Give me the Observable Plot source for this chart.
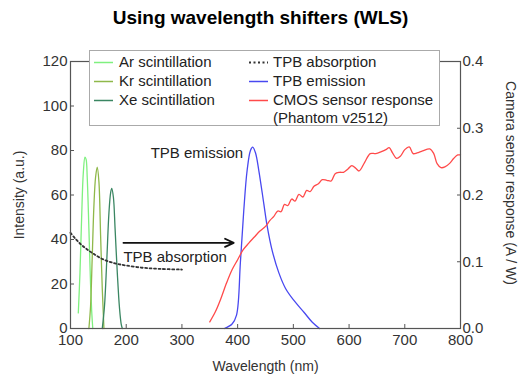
<!DOCTYPE html>
<html><head><meta charset="utf-8">
<script src="https://cdn.jsdelivr.net/npm/d3@7"></script>
<script src="https://cdn.jsdelivr.net/npm/@observablehq/plot@0.6"></script>
<style>
body{margin:0;background:#fff;font-family:"Liberation Sans",Arial,Helvetica,sans-serif;}
#wrap{position:relative;width:521px;height:378px;overflow:hidden;}
#title{height:36px;line-height:36px;text-align:center;font-weight:bold;font-size:19px;color:#000;}
#legend{position:absolute;left:89px;top:50px;width:351px;height:76px;box-sizing:border-box;border:1.5px solid #aaa;background:#fff;font-size:15px;color:#222;}
.it{position:absolute;height:18px;line-height:18px;white-space:nowrap;}
.it svg{position:absolute;left:0;top:0;}
.it span{position:absolute;top:0;}
</style></head>
<body>
<div id="wrap">
  <div id="title">Using wavelength shifters (WLS)</div>
  <div id="chart"></div>
  <div id="legend"></div>
</div>
<script>
// ---- data ----
const xTicks = [100, 200, 300, 400, 500, 600, 700, 800];
const yTicks = [0, 20, 40, 60, 80, 100, 120];
const rightTicks = [0.0, 0.1, 0.2, 0.3, 0.4];
const rightScale = 300; // 0.4 A/W  <->  120 a.u.

const arScint = [[114,7],[117,25],[120,50],[123,70],[126,77],[128,76],[130,68],[133,45],[136,20],[138,8],[140,0]];
const krScint = [[133,0],[136,10],[139,32],[142,55],[145,68],[148,72.5],[151,66],[154,42],[157,18],[159,6],[160,0]];
const xeScint = [[157,0],[161,10],[165,30],[169,52],[172,61],[174,63],[177,59],[180,45],[184,25],[188,9],[191,2],[193,0]];
const tpbAbs = [[100,43],[110,40],[120,37.5],[130,35.5],[140,33.8],[155,31.5],[170,30],[185,29],[200,28.3],[230,27.3],[260,26.8],[300,26.5]];
const tpbEm = [[376,0],[390,2],[398,6],[405,30],[411,53],[417,71],[423,80],[427,81.5],[432,79],[438,71],[447,56],[453,46],[462,35],[474,25],[486,18],[501,12.6],[519,7.3],[534,2.8],[547,0]];
const cmos = [[350,0.010],[360,0.025],[370,0.045],[380,0.068],[390,0.088],[400,0.103],[410,0.118],[420,0.128],[430,0.137],[440,0.146],[450,0.153],[458,0.162],[465,0.168],[472,0.176],[478,0.175],[484,0.186],[490,0.184],[497,0.194],[503,0.191],[510,0.201],[517,0.197],[524,0.207],[530,0.205],[537,0.213],[545,0.217],[552,0.223],[560,0.222],[568,0.221],[575,0.232],[583,0.234],[590,0.234],[598,0.239],[605,0.244],[612,0.240],[618,0.236],[628,0.249],[638,0.262],[648,0.262],[658,0.265],[666,0.268],[672,0.271],[678,0.263],[685,0.255],[692,0.258],[700,0.268],[708,0.272],[715,0.262],[722,0.263],[732,0.266],[745,0.269],[752,0.262],[758,0.247],[765,0.241],[772,0.242],[780,0.247],[788,0.255],[795,0.260],[800,0.260]];

const shiftArrow = [{x1: 195, y1: 38.5, x2: 393, y2: 38.5}];
const noteEmission = [{x: 410, y: 79, text: "TPB emission"}];
const noteAbsorption = [{x: 195, y: 32, text: "TPB absorption"}];
const xLabel = "Wavelength (nm)";
const yLabel = "Intensity (a.u.)";
const y2Label = "Camera sensor response (A / W)";

const legendItems = [
  {label: "Ar scintillation", color: "#7ff07f", dash: null, col: 0, row: 0},
  {label: "Kr scintillation", color: "#8fb84a", dash: null, col: 0, row: 1},
  {label: "Xe scintillation", color: "#3a8662", dash: null, col: 0, row: 2},
  {label: "TPB absorption", color: "#333", dash: "2,2.5", col: 1, row: 0},
  {label: "TPB emission", color: "#4848f0", dash: null, col: 1, row: 1},
  {label: "CMOS sensor response", color: "#ff4a4a", dash: null, col: 1, row: 2},
  {label: "(Phantom v2512)", color: null, dash: null, col: 1, row: 3}
];
const colors = Object.fromEntries(legendItems.map(d => [d.label, d.color]));

// ---- chart ----
const X = d => d[0], Y = d => d[1];
const chart = Plot.plot({
  width: 521, height: 342,
  marginTop: 25, marginBottom: 50, marginLeft: 70, marginRight: 61,
  style: {fontFamily: '"Liberation Sans", Arial, Helvetica, sans-serif', fontSize: "15px", color: "#333", background: "transparent"},
  x: {domain: [100, 800]},
  y: {domain: [0, 120]},
  marks: [
    Plot.line(arScint, {x: X, y: Y, stroke: colors["Ar scintillation"], strokeWidth: 1.3, curve: "catmull-rom"}),
    Plot.line(krScint, {x: X, y: Y, stroke: colors["Kr scintillation"], strokeWidth: 1.3, curve: "catmull-rom"}),
    Plot.line(xeScint, {x: X, y: Y, stroke: colors["Xe scintillation"], strokeWidth: 1.3, curve: "catmull-rom"}),
    Plot.line(tpbAbs, {x: X, y: Y, stroke: "#333", strokeWidth: 1.8, strokeDasharray: "2,2.5", curve: "catmull-rom"}),
    Plot.line(tpbEm, {x: X, y: Y, stroke: colors["TPB emission"], strokeWidth: 1.3, curve: "catmull-rom"}),
    Plot.line(cmos, {x: X, y: d => d[1] * rightScale, stroke: colors["CMOS sensor response"], strokeWidth: 1.3, curve: "catmull-rom"}),
    Plot.arrow(shiftArrow, {x1: "x1", y1: "y1", x2: "x2", y2: "y2", stroke: "#111", strokeWidth: 1.8, headLength: 8, headAngle: 50}),
    Plot.text(noteEmission, {x: "x", y: "y", text: "text", textAnchor: "end", fontSize: 15, fill: "#222"}),
    Plot.text(noteAbsorption, {x: "x", y: "y", text: "text", textAnchor: "start", fontSize: 15, fill: "#222"}),
    Plot.frame({stroke: "#555", strokeWidth: 1.2}),
    Plot.axisX(xTicks, {anchor: "bottom", tickSize: -4, tickPadding: 10, stroke: "#555", fill: "#333", label: null}),
    Plot.axisY(yTicks, {anchor: "left", tickSize: -4, tickPadding: 7, stroke: "#555", fill: "#333", label: null}),
    Plot.axisY(rightTicks.map(v => v * rightScale), {anchor: "right", tickSize: -4, tickPadding: 6, stroke: "#555", fill: "#333", tickFormat: d => (d / rightScale).toFixed(1), label: null}),
    Plot.text([xLabel], {frameAnchor: "bottom", text: d => d, textAnchor: "middle", dy: 42, fontSize: 14, fill: "#333"}),
    Plot.text([yLabel], {frameAnchor: "left", text: d => d, textAnchor: "middle", rotate: -90, dx: -51, fontSize: 14, fill: "#333"}),
    Plot.text([y2Label], {frameAnchor: "right", text: d => d, textAnchor: "middle", rotate: 90, dx: 50, dy: -12, fontSize: 14, fill: "#333"})
  ]
});
document.getElementById("chart").appendChild(chart);

// ---- legend ----
const leg = document.getElementById("legend");
const colX = [4, 159], colText = [29, 183], rowY = [2, 21, 39.5, 57.5];
for (const d of legendItems) {
  const el = document.createElement("div");
  el.className = "it";
  el.style.left = colX[d.col] + "px";
  el.style.top = rowY[d.row] + "px";
  el.style.width = "300px";
  if (d.color) {
    el.innerHTML = `<svg width="20" height="18"><line x1="0" x2="19" y1="9.5" y2="9.5" stroke="${d.color}" stroke-width="${d.dash ? 1.8 : 1.5}" ${d.dash ? `stroke-dasharray="${d.dash}"` : ""}/></svg>`;
  }
  const s = document.createElement("span");
  s.style.left = (colText[d.col] - colX[d.col]) + "px";
  s.textContent = d.label;
  el.appendChild(s);
  leg.appendChild(el);
}
</script>
</body></html>
